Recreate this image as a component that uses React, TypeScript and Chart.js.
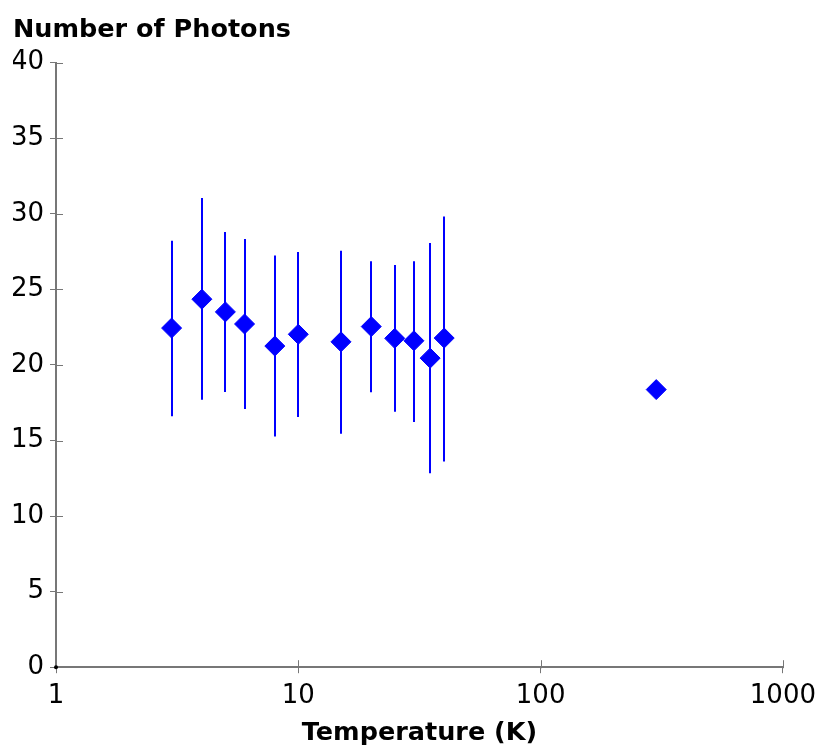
import React, { useEffect, useRef } from "react";
import { Chart, registerables } from "chart.js";

Chart.register(...registerables);

const temperatures = [3, 4, 5, 6, 8, 10, 15, 20, 25, 30, 35, 40, 300];
const photons = [22.44, 24.35, 23.51, 22.71, 21.25, 22.03, 21.53, 22.54, 21.76, 21.6, 20.45, 21.78, 18.37];
const errUpper = [28.22, 31.05, 28.79, 28.33, 27.24, 27.47, 27.56, 26.87, 26.61, 26.87, 28.07, 29.83, null];
const errLower = [16.6, 17.69, 18.21, 17.09, 15.26, 16.55, 15.45, 18.19, 16.91, 16.22, 12.84, 13.61, null];
const xTickValues = [1, 10, 100, 1000];
const xTickLabels = ["1", "10", "100", "1000"];

const FONT = "'DejaVu Sans', sans-serif";
const AXIS = "#777777";
const BLUE = "#0000ff";

const errorBarPlugin = {
  id: "errorBars",
  beforeDatasetsDraw(chart: any) {
    const { ctx, scales } = chart;
    const xs = scales.x;
    const ys = scales.y;
    ctx.save();
    ctx.strokeStyle = BLUE;
    ctx.lineWidth = 2;
    temperatures.forEach((t, i) => {
      const hi = errUpper[i];
      const lo = errLower[i];
      if (hi == null || lo == null) return;
      const px = Math.round(xs.getPixelForValue(t));
      ctx.beginPath();
      ctx.moveTo(px, ys.getPixelForValue(hi));
      ctx.lineTo(px, ys.getPixelForValue(lo));
      ctx.stroke();
    });
    ctx.restore();
  },
};

const innerTicksPlugin = {
  id: "innerTicks",
  afterDraw(chart: any) {
    const { ctx, scales, chartArea } = chart;
    ctx.save();
    ctx.strokeStyle = AXIS;
    ctx.lineWidth = 1;
    scales.x.ticks.forEach((tk: any) => {
      const px = Math.round(scales.x.getPixelForValue(tk.value)) + 0.5;
      ctx.beginPath();
      ctx.moveTo(px, chartArea.bottom + 1);
      ctx.lineTo(px, chartArea.bottom - 7);
      ctx.stroke();
    });
    scales.y.ticks.forEach((tk: any) => {
      const py = Math.round(scales.y.getPixelForValue(tk.value)) + 0.5;
      ctx.beginPath();
      ctx.moveTo(chartArea.left - 1, py);
      ctx.lineTo(chartArea.left + 7, py);
      ctx.stroke();
    });
    ctx.fillStyle = "#000";
    ctx.beginPath();
    ctx.arc(chartArea.left, chartArea.bottom, 2, 0, Math.PI * 2);
    ctx.fill();
    ctx.restore();
  },
};

export default function App() {
  const ref = useRef<HTMLCanvasElement | null>(null);

  useEffect(() => {
    if (!ref.current) return;
    const chart = new Chart(ref.current, {
      type: "scatter",
      data: {
        datasets: [
          {
            label: "Number of Photons",
            data: temperatures.map((t, i) => ({ x: t, y: photons[i] })),
            backgroundColor: BLUE,
            borderColor: BLUE,
            borderWidth: 1,
            pointStyle: "rectRot",
            pointRadius: 10,
            pointHoverRadius: 10,
          },
        ],
      },
      options: {
        responsive: false,
        animation: false,
        layout: { padding: { left: 13, right: 35, top: 0, bottom: 0 } },
        plugins: {
          legend: { display: false },
          tooltip: { enabled: false },
          title: {
            display: true,
            text: "Number of Photons",
            align: "start",
            color: "#000",
            font: { family: FONT, size: 25.5, weight: "bold" },
            padding: { top: 15, bottom: 17.1 },
          },
        },
        scales: {
          x: {
            type: "logarithmic",
            min: 1,
            max: 1000,
            afterBuildTicks: (scale: any) => {
              scale.ticks = xTickValues.map((v) => ({ value: v }));
            },
            ticks: {
              color: "#000",
              font: { family: FONT, size: 26 },
              padding: 7,
              maxRotation: 0,
              autoSkip: false,
              callback: (v: any) => {
                const idx = xTickValues.indexOf(Number(v));
                return idx >= 0 ? xTickLabels[idx] : "";
              },
            },
            grid: {
              drawOnChartArea: false,
              drawTicks: true,
              tickLength: 6,
              tickColor: AXIS,
              lineWidth: 1,
            },
            border: { color: AXIS, width: 2 },
            title: {
              display: true,
              text: "Temperature (K)",
              color: "#000",
              font: { family: FONT, size: 25.5, weight: "bold" },
              padding: { top: 0, bottom: 0 },
            },
          },
          y: {
            type: "linear",
            min: 0,
            max: 40,
            afterFit: (scale: any) => {
              scale.width = 43;
            },
            ticks: {
              stepSize: 5,
              color: "#000",
              font: { family: FONT, size: 26 },
              padding: 6,
            },
            grid: {
              drawOnChartArea: false,
              drawTicks: true,
              tickLength: 6,
              tickColor: AXIS,
              lineWidth: 1,
            },
            border: { color: AXIS, width: 2 },
          },
        },
      } as any,
      plugins: [errorBarPlugin, innerTicksPlugin],
    });
    return () => chart.destroy();
  }, []);

  return (
    <div style={{ position: "absolute", left: 0, top: 0, width: 823, height: 749 }}>
      <canvas ref={ref} width={823} height={749} style={{ display: "block" }} />
    </div>
  );
}
